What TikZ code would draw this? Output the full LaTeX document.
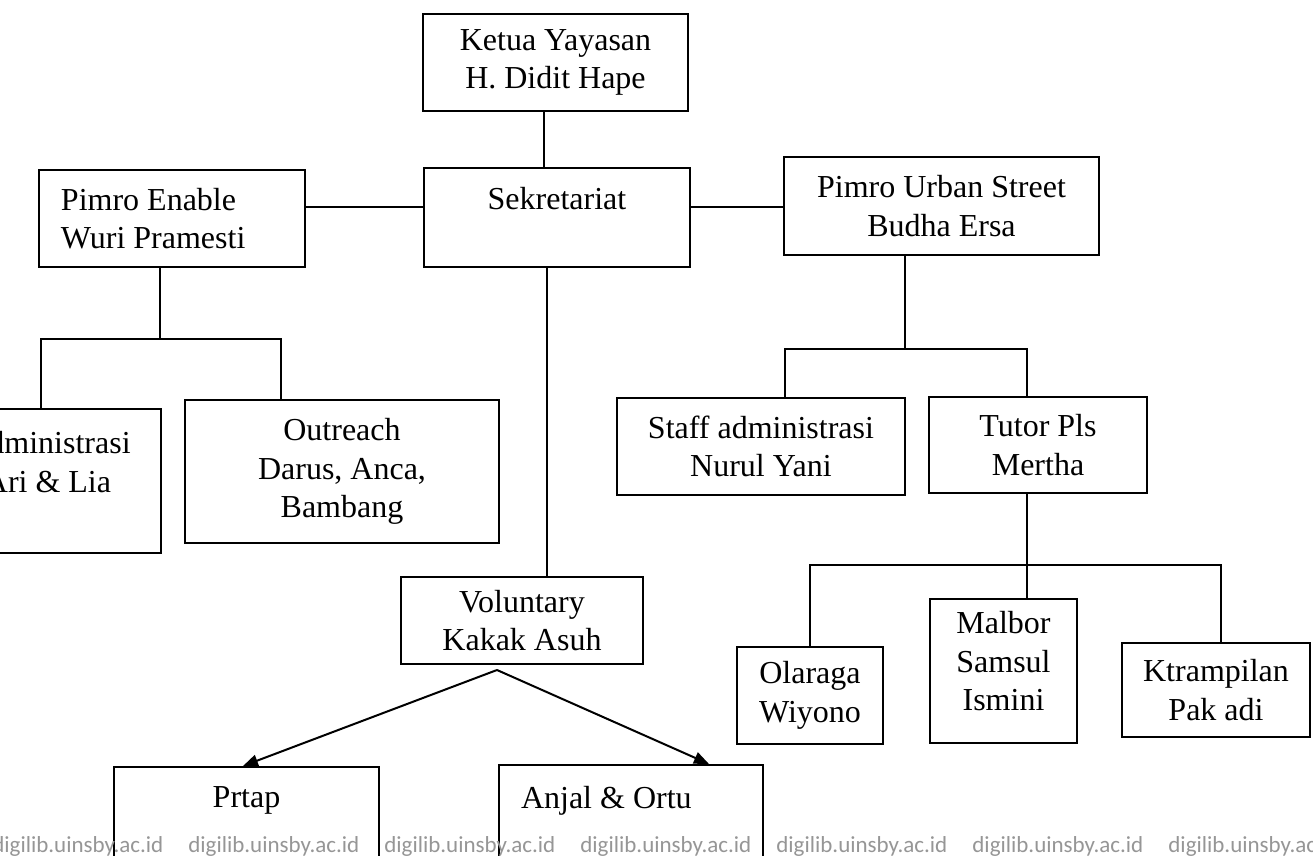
\documentclass[tikz,border=0pt]{standalone}
\usepackage{fontspec}
\setmainfont{Liberation Serif}
\newfontfamily\wmfont{Carlito}
\usetikzlibrary{arrows.meta}
\definecolor{wmgray}{RGB}{150,150,150}
\begin{document}
\begin{tikzpicture}[x=0.5pt,y=-0.5pt,
  box/.style={draw, line width=1.2pt, inner sep=0pt, align=center, font=\fontsize{16}{19.25}\selectfont},
  lbox/.style={box, align=left, inner xsep=11pt, text width=#1},
  conn/.style={line width=1pt},
  arr/.style={conn, -{Triangle[length=7.5pt,width=6pt]}},
  wm/.style={font=\wmfont\fontsize{11.5}{13}\selectfont, text=wmgray, anchor=base west, inner sep=0pt}]
\useasboundingbox (0,0) rectangle (1313,856);
\fill[white] (0,0) rectangle (1313,856);
\clip (0,0) rectangle (1313,856);

\node[box, minimum width=132.5pt, minimum height=48.5pt] (ketua) at (555.5,62.5) {Ketua Yayasan\\H. Didit Hape};
\node[box, minimum width=133pt, minimum height=49.5pt] (sek) at (557,217.5) {Sekretariat\\\mbox{}};
\node[lbox=111pt, minimum height=48.5pt] (enable) at (172,218.5) {\spaceskip=0pt\relax Pimro Enable\\Wuri Pramesti};
\node[box, minimum width=157.5pt, minimum height=49pt] (urban) at (941.5,206) {Pimro Urban Street\\Budha Ersa};
\node[box, minimum width=113pt, minimum height=72pt] (admin) at (48,481) {Administrasi\\Ari \& Lia\\\mbox{}};
\node[box, minimum width=157pt, minimum height=71.5pt] (outreach) at (342,471.5) {Outreach\\Darus, Anca,\\Bambang};
\node[box, minimum width=144pt, minimum height=48.5pt] (staff) at (761,446.5) {Staff administrasi\\Nurul Yani};
\node[box, minimum width=109pt, minimum height=48pt] (tutor) at (1038,445) {Tutor Pls\\Mertha};
\node[box, minimum width=121pt, minimum height=43.5pt] (vol) at (522,620.5) {Voluntary\\Kakak Asuh};
\node[box, minimum width=73pt, minimum height=48.5pt] (olaraga) at (810,695.5) {Olaraga\\Wiyono};
\node[box, minimum width=73.5pt, minimum height=72pt, text depth=10pt] (malbor) at (1003.5,671) {Malbor\\Samsul\\Ismini};
\node[box, minimum width=94pt, minimum height=47pt] (ktramp) at (1216,690) {Ktrampilan\\Pak adi};
\node[box, anchor=north, minimum width=132.5pt, text height=20pt, text depth=70pt] (prtap) at (246.5,766) {Prtap};
\node[lbox=110pt, anchor=north, text height=21.5pt, text depth=70pt] (anjal) at (631,764) {\spaceskip=0pt\relax Anjal \& Ortu};

\coordinate (kx) at (544,0);
\draw[conn] (ketua.south -| kx) -- (sek.north -| kx);
\coordinate (hy) at (0,207);
\draw[conn] (enable.east |- hy) -- (sek.west |- hy);
\draw[conn] (sek.east |- hy) -- (urban.west |- hy);

\coordinate (lj) at (160,339);
\coordinate (la) at (41,339);
\coordinate (lb) at (281,339);
\draw[conn] (enable.south -| lj) -- (lj);
\draw[conn] (admin.north -| la) -- (la) -- (lb) -- (outreach.north -| lb);

\coordinate (sx) at (547,0);
\draw[conn] (sek.south -| sx) -- (vol.north -| sx);

\coordinate (rj) at (905,349);
\coordinate (ra) at (785,349);
\coordinate (rb) at (1027,349);
\draw[conn] (urban.south -| rj) -- (rj);
\draw[conn] (staff.north -| ra) -- (ra) -- (rb) -- (tutor.north -| rb);

\coordinate (tj) at (1027,565);
\coordinate (ta) at (810,565);
\coordinate (tc) at (1221,565);
\draw[conn] (tutor.south -| tj) -- (malbor.north -| tj);
\draw[conn] (olaraga.north -| ta) -- (ta) -- (tc) -- (ktramp.north -| tc);

\coordinate (apex) at (497,670);
\coordinate (pl) at (243,0);
\coordinate (pr) at (709,0);
\draw[arr] (apex) -- (prtap.north -| pl);
\draw[arr] (apex) -- (anjal.north -| pr);

\foreach \i in {0,...,6}
  \node[wm] (wm\i) at ({-8+196*\i},852) {digilib.uinsby.ac.id};
\end{tikzpicture}
\end{document}
